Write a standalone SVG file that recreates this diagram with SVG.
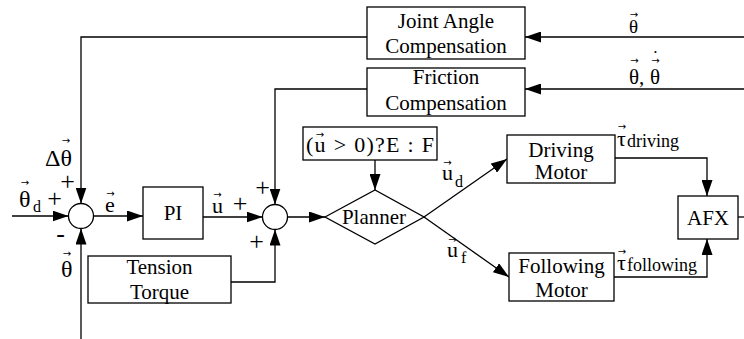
<svg xmlns="http://www.w3.org/2000/svg" width="744" height="339" viewBox="0 0 744 339">
<style>
.b{fill:#fff;stroke:#000;stroke-width:1.3}
.c{fill:none;stroke:#000;stroke-width:1.3}
text{font-family:"Liberation Serif","Times New Roman",serif;fill:#000}
.t{font-size:21px;text-anchor:middle}
.m{font-size:22px}
.g{font-size:24px}
.p{font-size:26px;text-anchor:middle}
.s{font-size:16px}
.s2{font-size:18px}
.v{font-family:"DejaVu Sans",sans-serif;font-size:10px;text-anchor:middle}
</style>
<defs>
<marker id="ah" markerWidth="16" markerHeight="11" refX="16" refY="5.5" orient="auto" markerUnits="userSpaceOnUse"><path d="M0,0 L16,5.5 L0,11 z" fill="#000"/></marker>
</defs>
<rect width="744" height="339" fill="#fff"/>
<g id="connectors">
<path class="c" d="M744,37 H525" marker-end="url(#ah)"/>
<path class="c" d="M744,89 H525" marker-end="url(#ah)"/>
<path class="c" d="M367,37 H81 V203.5" marker-end="url(#ah)"/>
<path class="c" d="M367,89 H275 V204.5" marker-end="url(#ah)"/>
<path class="c" d="M12,216 H68.5" marker-end="url(#ah)"/>
<path class="c" d="M81,339 V228.5" marker-end="url(#ah)"/>
<path class="c" d="M93.5,216 H143" marker-end="url(#ah)"/>
<path class="c" d="M203,217 H262.5" marker-end="url(#ah)"/>
<path class="c" d="M287.5,217 H325" marker-end="url(#ah)"/>
<path class="c" d="M231,282 H275 V229.5" marker-end="url(#ah)"/>
<path class="c" d="M375,160 V190" marker-end="url(#ah)"/>
<path class="c" d="M424,217 L507,159" marker-end="url(#ah)"/>
<path class="c" d="M424,217 L509,277" marker-end="url(#ah)"/>
<path class="c" d="M615,158 H707 V196" marker-end="url(#ah)"/>
<path class="c" d="M614,277 H707 V239" marker-end="url(#ah)"/>
<path class="c" d="M738,217 H744"/>
</g>
<g id="joint">
<rect class="b" x="367" y="7" width="158" height="52"/>
<text class="t" x="446" y="28">Joint Angle</text>
<text class="t" x="446" y="53">Compensation</text>
</g>
<g id="friction">
<rect class="b" x="367" y="68" width="158" height="48"/>
<text class="t" x="446" y="84">Friction</text>
<text class="t" x="446" y="110">Compensation</text>
</g>
<g id="sum1"><circle class="b" cx="81" cy="216" r="12.5"/></g>
<g id="sum2"><circle class="b" cx="275" cy="217" r="12.5"/></g>
<g id="pi">
<rect class="b" x="143" y="187" width="60" height="52"/>
<text class="t" x="173" y="220">PI</text>
</g>
<g id="tension">
<rect class="b" x="88" y="256" width="143" height="47"/>
<text class="t" x="159.5" y="274">Tension</text>
<text class="t" x="159.5" y="299">Torque</text>
</g>
<g id="condition">
<rect class="b" x="303" y="127" width="134" height="33"/>
<text class="m" x="306" y="152" textLength="128" lengthAdjust="spacing">(u &gt; 0)?E : F</text>
<text class="v" x="320" y="138">→</text>
</g>
<g id="planner">
<polygon class="b" points="325,217 375,190 424,217 375,244"/>
<text class="t" x="374" y="224">Planner</text>
</g>
<g id="driving">
<rect class="b" x="507" y="135" width="108" height="48"/>
<text class="t" x="561" y="157">Driving</text>
<text class="t" x="561" y="179">Motor</text>
</g>
<g id="following">
<rect class="b" x="509" y="253" width="105" height="48"/>
<text class="t" x="561.5" y="273">Following</text>
<text class="t" x="561.5" y="297">Motor</text>
</g>
<g id="afx">
<rect class="b" x="678" y="196" width="60" height="43"/>
<text class="t" x="708" y="225">AFX</text>
</g>
<g id="labels">
<text style="font-size:19px" x="629" y="33">θ</text>
<text class="v" x="634" y="18">→</text>
<text style="font-size:21px" x="629" y="84">θ,</text>
<text style="font-size:21px" x="650" y="84">θ</text>
<text class="v" x="634.5" y="64">→</text>
<text class="v" x="655.5" y="64">→</text>
<text style="font-size:16px;text-anchor:middle" x="655.5" y="58">·</text>
<text class="g" x="45" y="166">Δθ</text>
<text class="v" x="66" y="144">→</text>
<text class="p" x="67.5" y="189.5">+</text>
<text class="g" x="19" y="207">θ</text>
<text class="v" x="25" y="186">→</text>
<text class="s" x="33" y="212">d</text>
<text class="p" x="54.5" y="206.5">+</text>
<text class="p" x="60.5" y="241.5">-</text>
<text class="g" x="61" y="277">θ</text>
<text class="v" x="67" y="257">→</text>
<text class="m" x="105" y="212">e</text>
<text class="v" x="110.5" y="197">→</text>
<text class="m" x="212" y="213">u</text>
<text class="v" x="217.5" y="198">→</text>
<text class="p" x="240" y="211.5">+</text>
<text class="p" x="262.5" y="195.5">+</text>
<text class="p" x="256.5" y="249.5">+</text>
<text class="m" x="442" y="180">u</text>
<text class="v" x="447.5" y="166">→</text>
<text class="s" x="455" y="187">d</text>
<text class="m" x="447" y="257">u</text>
<text class="v" x="452.5" y="243">→</text>
<text class="s" x="461" y="263">f</text>
<text class="m" x="617" y="146">τ</text>
<text class="v" x="622" y="130">→</text>
<text class="s2" x="627" y="147">driving</text>
<text class="m" x="617" y="270">τ</text>
<text class="v" x="622" y="255">→</text>
<text class="s2" x="627" y="271">following</text>
</g>
</svg>
